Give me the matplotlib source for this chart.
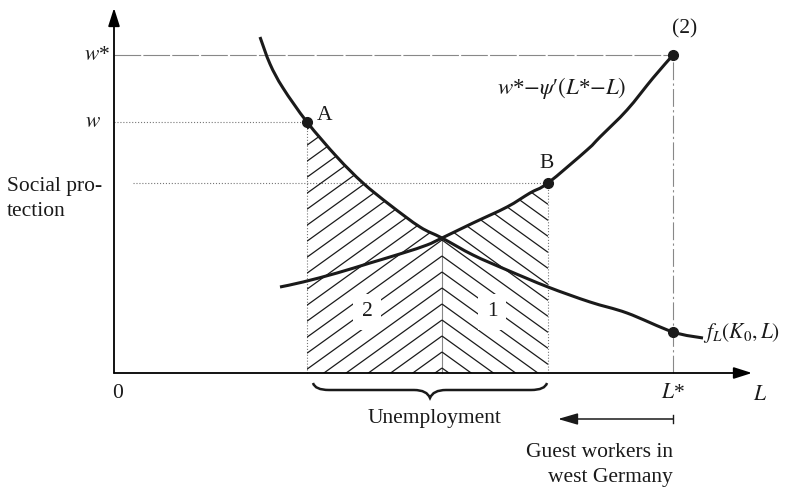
import matplotlib
matplotlib.use("Agg")
import matplotlib.pyplot as plt
from matplotlib.path import Path
from matplotlib.patches import PathPatch, Polygon
from matplotlib.collections import LineCollection
import numpy as np

plt.rcParams['font.family'] = ['Liberation Serif', 'DejaVu Serif']
plt.rcParams['mathtext.fontset'] = 'stix'

# ---- data (diagram units) ----
fL_x = [146, 156, 169, 193, 223, 249, 276, 306, 328, 359, 393, 434, 476, 513, 559, 589]
fL_y = [336, 309, 285, 251, 216, 190, 168, 146, 135, 118, 103, 86, 71, 60, 41, 35]

g_x = [166, 189, 223, 256, 289, 313, 328, 359, 393, 416, 434, 473, 486, 513, 539, 559]
g_y = [86, 91, 100, 110, 120, 128, 135, 150, 166, 180, 190, 223, 236, 263, 295, 318]

L_A, w_A = 193, 251          # point A
L_B, w_B = 434, 190          # point B
L_X, w_X = 328, 135          # intersection
L_star, w_star = 559, 318    # L*, w*
fL_at_Lstar = 41
x_axis_end, y_axis_end = 638, 365

FS = 15.5
ink = '#1a1a1a'


def smooth_path(xs, ys):
    """Smooth curve through the given points (Catmull-Rom rendered as cubic Beziers)."""
    p = np.column_stack([xs, ys]).astype(float)
    verts = [tuple(p[0])]
    codes = [Path.MOVETO]
    n = len(p)
    for i in range(n - 1):
        p0 = p[i - 1] if i > 0 else p[i]
        p1, p2 = p[i], p[i + 1]
        p3 = p[i + 2] if i + 2 < n else p[i + 1]
        c1 = p1 + (p2 - p0) / 6.0
        c2 = p2 - (p3 - p1) / 6.0
        verts += [tuple(c1), tuple(c2), tuple(p2)]
        codes += [Path.CURVE4] * 3
    return Path(verts, codes)


fig = plt.figure(figsize=(7.98, 4.91), dpi=100)
ax = fig.add_axes([0, 0, 1, 1])
ax.set_xlim(-114, 684)
ax.set_ylim(-118, 373)
ax.axis('off')

# axes with arrows
arrow_kw = dict(arrowstyle='-|>,head_length=1.1,head_width=0.35', lw=1.3,
                color='black', shrinkA=0, shrinkB=0, mutation_scale=10)
ax.annotate('', xy=(0, y_axis_end), xytext=(0, 0), arrowprops=arrow_kw)
ax.annotate('', xy=(x_axis_end, 0), xytext=(0, 0), arrowprops=arrow_kw)

# guide lines
ax.plot([0, L_star], [w_star, w_star], color='#888888', lw=0.8, ls=(0, (24, 2)))
ax.plot([0, L_A], [w_A, w_A], color='#777777', lw=0.8, ls=':')
ax.plot([19, L_B], [w_B, w_B], color='#777777', lw=0.8, ls=':')
ax.plot([L_A, L_A], [0, w_A], color='#777777', lw=0.8, ls=':')
ax.plot([L_B, L_B], [0, w_B], color='#777777', lw=0.8, ls=':')
ax.plot([L_star, L_star], [0, w_star], color='#888888', lw=0.8, ls=(0, (16, 3, 2, 3)))
ax.plot([L_X, L_X], [0, w_X], color='#888888', lw=0.8)

# hatched regions (chevron hatching)
fx = np.array(fL_x); fy = np.array(fL_y)
gx = np.array(g_x); gy = np.array(g_y)
mask_l = (fx >= L_A) & (fx <= L_X)
left_poly = [(L_A, 0)] + list(zip(fx[mask_l], fy[mask_l])) + [(L_X, 0)]
mask_r = (gx >= L_X) & (gx <= L_B)
right_poly = [(L_X, 0)] + list(zip(gx[mask_r], gy[mask_r])) + [(L_B, 0)]
lp = Polygon(left_poly, closed=True, facecolor='none', edgecolor='none')
rp = Polygon(right_poly, closed=True, facecolor='none', edgecolor='none')
ax.add_patch(lp); ax.add_patch(rp)

slope, spacing, a0 = 0.72, 16, 5
segs_l, segs_r = [], []
for k in range(30):
    a = a0 + spacing * k
    segs_l.append([(L_A, a - slope * (L_X - L_A)), (L_X, a)])
    segs_r.append([(L_X, a), (L_B, a - slope * (L_B - L_X))])
lc_l = LineCollection(segs_l, colors=ink, linewidths=0.9)
lc_r = LineCollection(segs_r, colors=ink, linewidths=0.9)
ax.add_collection(lc_l); ax.add_collection(lc_r)
lc_l.set_clip_path(lp); lc_r.set_clip_path(rp)

# curves
ax.add_patch(PathPatch(smooth_path(fL_x, fL_y), fc='none', ec=ink, lw=2.2,
                       capstyle='butt', zorder=4))
ax.add_patch(PathPatch(smooth_path(g_x, g_y), fc='none', ec=ink, lw=2.2,
                       capstyle='butt', zorder=4))

# points
ax.plot([L_A, L_B, L_star, L_star], [w_A, w_B, w_star, fL_at_Lstar], 'o',
        color=ink, ms=7, zorder=5)

# texts
tk = dict(fontsize=FS, color=ink)
ax.text(4, -20, '0', ha='center', va='center', **tk)
ax.text(-17, w_star, r'$w$*', ha='center', va='center', **tk)
ax.text(-21, w_A, r'$w$', ha='center', va='center', **tk)
ax.text(-107, 174, 'Social pro-\ntection', ha='left', va='center', linespacing=1.38, **tk)
ax.text(L_A + 18, w_A + 7, 'A', ha='center', va='center', **tk)
ax.text(L_B - 1, w_B + 20, 'B', ha='center', va='center', **tk)
ax.text(L_star + 12, w_star + 26, '(2)', ha='center', va='center', **tk)
ax.text(448, 285, r"$w$*$-\psi$′$(L$*$-L)$", ha='center', va='center',
        fontsize=FS + 1, color=ink)
ax.text(589, 40, r'$f_L(K_0,L)$', ha='left', va='center', **tk)
ax.text(253, 61, '2', ha='center', va='center',
        bbox=dict(boxstyle='square,pad=0.4', fc='white', ec='none'), zorder=3, **tk)
ax.text(378, 61, '1', ha='center', va='center',
        bbox=dict(boxstyle='square,pad=0.4', fc='white', ec='none'), zorder=3, **tk)
ax.text(L_star, -20, r'$L$*', ha='center', va='center', **tk)
ax.text(646, -22, r'$L$', ha='center', va='center', **tk)
ax.text(320, -46, 'Unemployment', ha='center', va='center', **tk)
ax.text(L_star, -92, 'Guest workers in\nwest Germany', ha='right', va='center',
        multialignment='right', linespacing=1.4, **tk)

# brace under unemployment
x1, x2 = L_A + 6, L_B - 1
xm = (x1 + x2) / 2
yt, ymid, yb = -10, -17, -25
verts = [(x1, yt), (x1 + 2, ymid), (x1 + 16, ymid),
         (xm - 16, ymid), (xm - 3, ymid), (xm, yb),
         (xm + 3, ymid), (xm + 16, ymid),
         (x2 - 16, ymid), (x2 - 2, ymid), (x2, yt)]
codes = [Path.MOVETO, Path.CURVE3, Path.CURVE3,
         Path.LINETO, Path.CURVE3, Path.CURVE3,
         Path.CURVE3, Path.CURVE3,
         Path.LINETO, Path.CURVE3, Path.CURVE3]
ax.add_patch(PathPatch(Path(verts, codes), fc='none', ec=ink, lw=1.8))

# guest workers arrow
ax.annotate('', xy=(444, -46), xytext=(L_star, -46),
            arrowprops=dict(arrowstyle='-|>,head_length=1.2,head_width=0.35', lw=1.1,
                            color=ink, shrinkA=0, shrinkB=0, mutation_scale=10))
ax.plot([L_star, L_star], [-42, -50], color=ink, lw=1.0)

fig.savefig('out.png', dpi=100)
